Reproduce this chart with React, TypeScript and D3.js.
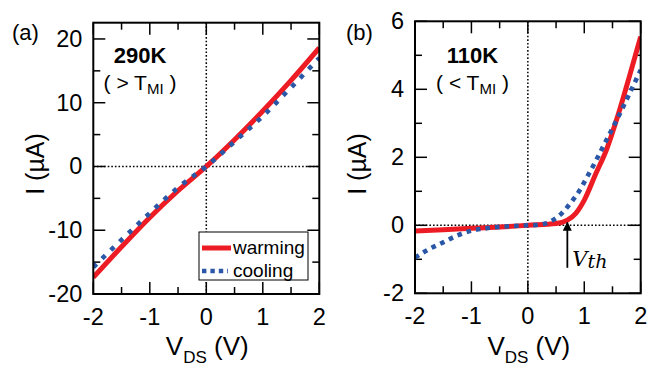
import React from "react";
import * as d3 from "d3";

const W = 657;
const H = 369;

// ---- data ----
// (a) 290 K
const v290 = [-2, -1.5, -1, -0.5, 0, 0.5, 1, 1.5, 2];
const warming290 = [-17.4, -12.6, -8.0, -3.8, 0, 4.2, 8.7, 13.5, 18.6];
const cooling290 = [-15.8, -11.5, -7.3, -3.3, 0, 3.9, 7.9, 12.4, 17.0];

// (b) 110 K
const vWarming110 = [-2, -1.5, -1, -0.5, 0, 0.5, 0.7, 0.85, 1.0, 1.2, 1.4, 1.6, 1.8, 2];
const warming110 = [-0.17, -0.13, -0.09, -0.05, 0, 0.05, 0.15, 0.35, 0.74, 1.5, 2.25, 3.25, 4.38, 5.55];
const vCooling110 = [-2, -1.75, -1.5, -1.25, -1, -0.75, -0.5, -0.25, 0, 0.15, 0.3, 0.45, 0.6, 0.75, 0.9, 1.05, 1.2, 1.4, 1.6, 1.8, 2];
const cooling110 = [-0.95, -0.7, -0.5, -0.3, -0.16, -0.09, -0.045, -0.02, 0, 0.01, 0.05, 0.16, 0.35, 0.64, 0.98, 1.42, 1.88, 2.53, 3.18, 3.87, 4.57];

const xMajor = [-2, -1, 0, 1, 2];
const xMinor = [-1.5, -0.5, 0.5, 1.5];
const yMajorA = [-20, -10, 0, 10, 20];
const yMinorA = [-15, -5, 5, 15];
const yMajorB = [-2, 0, 2, 4, 6];
const yMinorB = [-1, 1, 3, 5];

const vth = 0.7;

const RED = "#ED1C24";
const BLUE = "#2B57A7";
const FONT = "'Liberation Sans', Arial, sans-serif";

type Series = { v: number[]; i: number[] };

type PanelProps = {
  left: number;
  top: number;
  width: number;
  height: number;
  yDomain: [number, number];
  yMajor: number[];
  yMinor: number[];
  warming: Series;
  cooling: Series;
  letter: string;
  letterX: number;
  noteX: number;
  temp: string;
  relation: string;
  coolDash: string;
  children?: (x: d3.ScaleLinear<number, number>, y: d3.ScaleLinear<number, number>) => React.ReactNode;
};

function Panel(props: PanelProps) {
  const { left, top, width, height, yDomain, yMajor, yMinor, warming, cooling } = props;
  const x = d3.scaleLinear().domain([-2, 2]).range([left, left + width]);
  const y = d3.scaleLinear().domain(yDomain).range([top + height, top]);
  const bottom = top + height;
  const right = left + width;

  const line = d3
    .line<[number, number]>()
    .x(d => x(d[0]))
    .y(d => y(d[1]))
    .curve(d3.curveMonotoneX);
  const pts = (s: Series) => s.v.map((v, k) => [v, s.i[k]] as [number, number]);

  const major = 12;
  const minor = 7;
  const cx = left + width / 2;

  return (
    <g>
      <defs>
        <clipPath id={`clip-${props.letter}`}>
          <rect x={left} y={top} width={width} height={height} />
        </clipPath>
      </defs>
      {/* zero reference lines */}
      <line x1={x(0)} x2={x(0)} y1={top} y2={bottom} stroke="#000" strokeWidth={1.5} strokeDasharray="1.6,2" />
      <line x1={left} x2={right} y1={y(0)} y2={y(0)} stroke="#000" strokeWidth={1.5} strokeDasharray="1.6,2" />

      {/* ticks on all four sides, pointing in */}
      {xMajor.concat(xMinor).map(t => {
        const len = xMajor.includes(t) ? major : minor;
        return (
          <g key={`xt${t}`}>
            <line x1={x(t)} x2={x(t)} y1={bottom} y2={bottom - len} stroke="#000" strokeWidth={1.5} />
            <line x1={x(t)} x2={x(t)} y1={top} y2={top + len} stroke="#000" strokeWidth={1.5} />
          </g>
        );
      })}
      {yMajor.concat(yMinor).map(t => {
        const len = yMajor.includes(t) ? major : minor;
        return (
          <g key={`yt${t}`}>
            <line x1={left} x2={left + len} y1={y(t)} y2={y(t)} stroke="#000" strokeWidth={1.5} />
            <line x1={right} x2={right - len} y1={y(t)} y2={y(t)} stroke="#000" strokeWidth={1.5} />
          </g>
        );
      })}

      {/* curves */}
      <g clipPath={`url(#clip-${props.letter})`}>
        <path d={line(pts(warming)) || ""} fill="none" stroke={RED} strokeWidth={5} />
        <path
          d={line(pts(cooling)) || ""}
          fill="none"
          stroke={BLUE}
          strokeWidth={4.6}
          strokeDasharray={props.coolDash}
        />
      </g>

      <rect x={left} y={top} width={width} height={height} fill="none" stroke="#000" strokeWidth={2} />

      {/* tick labels */}
      {xMajor.map(t => (
        <text key={`xl${t}`} x={x(t)} y={bottom + 31} textAnchor="middle" fontSize={23.5} fontFamily={FONT}>
          {t < 0 ? `-${-t}` : t}
        </text>
      ))}
      {yMajor.map(t => (
        <text key={`yl${t}`} x={left - 11} y={y(t) + 8} textAnchor="end" fontSize={23.5} fontFamily={FONT}>
          {t < 0 ? `-${-t}` : t}
        </text>
      ))}

      {/* axis titles */}
      <text x={cx + 1} y={355} textAnchor="middle" fontSize={26} fontFamily={FONT}>
        V<tspan fontSize={17} dy={8}>DS</tspan>
        <tspan dy={-8}> (V)</tspan>
      </text>
      <text
        transform={`translate(${left - 49},164) rotate(-90)`}
        textAnchor="middle"
        fontSize={25}
        fontFamily={FONT}
      >
        I (µA)
      </text>

      {/* panel annotations */}
      <text x={props.letterX} y={40} fontSize={22} fontFamily={FONT}>
        ({props.letter})
      </text>
      <text x={props.noteX} y={63} textAnchor="middle" fontSize={22} fontWeight="bold" fontFamily={FONT}>
        {props.temp}
      </text>
      <text x={props.noteX} y={90} textAnchor="middle" fontSize={21} fontFamily={FONT}>
        ( {props.relation} T<tspan fontSize={15} dy={4}>MI</tspan>
        <tspan dy={-4}> )</tspan>
      </text>

      {props.children && props.children(x, y)}
    </g>
  );
}

export default function App() {
  return (
    <div style={{ position: "absolute", left: 0, top: 0 }}>
      <svg width={W} height={H} style={{ display: "block", background: "#fff" }}>
        <Panel
          left={93.3}
          top={22.7}
          width={226}
          height={271.3}
          yDomain={[-20, 22.55]}
          yMajor={yMajorA}
          yMinor={yMinorA}
          warming={{ v: v290, i: warming290 }}
          cooling={{ v: v290, i: cooling290 }}
          letter="a"
          letterX={12}
          noteX={140}
          temp="290K"
          relation=">"
          coolDash="4.6,7.6"
        >
          {() => (
            <g>
              <rect x={199} y={232} width={109} height={48} fill="#fff" stroke="#000" strokeWidth={1} />
              <line x1={202} x2={231} y1={248} y2={248} stroke={RED} strokeWidth={5} />
              <text x={233} y={254} fontSize={19} fontFamily={FONT}>warming</text>
              <line x1={202} x2={228} y1={271} y2={271} stroke={BLUE} strokeWidth={4.6} strokeDasharray="4.4,4" />
              <text x={233} y={277} fontSize={19} fontFamily={FONT}>cooling</text>
            </g>
          )}
        </Panel>
        <Panel
          left={415}
          top={21.3}
          width={225.7}
          height={272}
          yDomain={[-2, 6]}
          yMajor={yMajorB}
          yMinor={yMinorB}
          warming={{ v: vWarming110, i: warming110 }}
          cooling={{ v: vCooling110, i: cooling110 }}
          letter="b"
          letterX={346}
          noteX={472.5}
          temp="110K"
          relation="<"
          coolDash="4.6,5"
        >
          {(x, y) => (
            <g>
              <defs>
                <marker id="arrowHead" viewBox="0 0 10 10" refX={9} refY={5} markerWidth={5} markerHeight={5} orient="auto">
                  <path d="M0,0 L10,5 L0,10 z" fill="#000" />
                </marker>
              </defs>
              <line
                x1={x(vth)}
                x2={x(vth)}
                y1={y(-1.25)}
                y2={y(0.08)}
                stroke="#000"
                strokeWidth={1.8}
                markerEnd="url(#arrowHead)"
              />
              <text x={x(vth) + 5} y={y(-1.2)} fontSize={21} fontStyle="italic" fontFamily="'DejaVu Serif', serif">
                V<tspan fontSize={19} dy={2}>th</tspan>
              </text>
            </g>
          )}
        </Panel>
      </svg>
    </div>
  );
}
